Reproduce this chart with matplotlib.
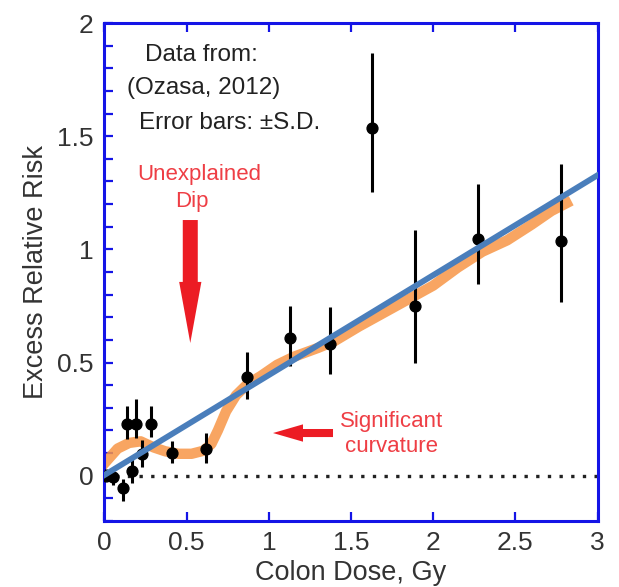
import matplotlib
matplotlib.use('Agg')
import matplotlib.pyplot as plt
from matplotlib.ticker import MultipleLocator, FuncFormatter

plt.rcParams['font.family'] = ['Liberation Sans', 'DejaVu Sans']

# Data points (colon dose, Gy) and excess relative risk with error bar limits
dose = [0.01, 0.05, 0.11, 0.14, 0.165, 0.19, 0.23, 0.28, 0.41, 0.62,
        0.87, 1.13, 1.375, 1.63, 1.89, 2.27, 2.78]
err_value = [0.0, -0.005, -0.055, 0.229, 0.022, 0.229, 0.097, 0.229, 0.10, 0.12,
             0.435, 0.61, 0.58, 1.534, 0.75, 1.044, 1.035]
err_low = [-0.02, -0.04, -0.11, 0.164, -0.03, 0.168, 0.04, 0.17, 0.058, 0.058,
           0.34, 0.487, 0.45, 1.254, 0.497, 0.845, 0.767]
err_high = [0.03, 0.03, -0.013, 0.31, 0.075, 0.34, 0.16, 0.31, 0.155, 0.19,
            0.545, 0.75, 0.745, 1.866, 1.084, 1.288, 1.379]

# Orange smooth curve
curve_x = [-0.03, 0.08, 0.15, 0.22, 0.30, 0.37, 0.45, 0.53, 0.60, 0.65, 0.69, 0.74,
           0.80, 0.87, 0.95, 1.05, 1.15, 1.30, 1.40, 1.55, 1.70, 1.85, 2.00, 2.15,
           2.30, 2.45, 2.60, 2.72, 2.84]
curve_y = [0.03, 0.12, 0.145, 0.152, 0.125, 0.108, 0.097, 0.097, 0.11, 0.14, 0.20, 0.285,
           0.355, 0.405, 0.44, 0.49, 0.525, 0.565, 0.595, 0.66, 0.72, 0.78, 0.84, 0.92,
           0.99, 1.04, 1.11, 1.17, 1.215]

# Blue linear fit
fit_x = [-0.03, 3.01]
fit_y = [-0.01, 1.332]

x_ticks = [0, 0.5, 1, 1.5, 2, 2.5, 3]
y_ticks = [0, 0.5, 1, 1.5, 2]

frame_blue = '#1414e6'
red = '#ec1c24'

fig = plt.figure(figsize=(6.19, 5.87), dpi=100)
ax = fig.add_axes([0.1688, 0.1124, 0.7965, 0.8484])

ax.axhline(0, color='#222222', lw=2.4, linestyle=(0, (1, 2.5)), zorder=1)
ax.plot(curve_x, curve_y, color='#f79646', lw=7.5, alpha=0.85,
        solid_capstyle='butt', solid_joinstyle='round', zorder=2)
yerr = [[v - l for v, l in zip(err_value, err_low)],
        [h - v for v, h in zip(err_value, err_high)]]
ax.errorbar(dose, err_value, yerr=yerr, fmt='o', color='black', ms=7.8,
            elinewidth=2.2, capsize=0, zorder=3)
ax.plot(fit_x, fit_y, color='#4a7ebb', lw=4.2, solid_capstyle='butt', zorder=4)

ax.set_xlim(0, 3)
ax.set_ylim(-0.2, 2)
ax.set_xticks(x_ticks)
ax.set_yticks(y_ticks)
fmt = FuncFormatter(lambda v, p: '%g' % v)
ax.xaxis.set_major_formatter(fmt)
ax.yaxis.set_major_formatter(fmt)
ax.yaxis.set_minor_locator(MultipleLocator(0.1))

for s in ax.spines.values():
    s.set_color(frame_blue)
    s.set_linewidth(2.2)

ax.tick_params(axis='x', which='major', direction='in', top=True, bottom=True,
               length=6.5, width=1.6, color=frame_blue, labelsize=19,
               labelcolor='#333333', pad=7)
ax.tick_params(axis='y', which='both', direction='in', left=True, right=False,
               length=6.5, width=1.6, color=frame_blue, labelsize=19,
               labelcolor='#333333', pad=8)

ax.set_xlabel('Colon Dose, Gy', fontsize=19.5, color='#333333', labelpad=4)
ax.set_ylabel('Excess Relative Risk', fontsize=19.5, color='#333333', labelpad=6)

tkw = dict(transform=ax.transAxes, ha='center', va='center', color='#222222', fontsize=17.5)
ax.text(0.196, 0.936, 'Data from:', **tkw)
ax.text(0.202, 0.869, '(Ozasa, 2012)', **tkw)
ax.text(0.253, 0.799, 'Error bars: \u00b1S.D.', **tkw)

rkw = dict(transform=ax.transAxes, ha='center', va='center', color=red, fontsize=16, alpha=0.85)
ax.text(0.192, 0.695, 'Unexplained', **rkw)
ax.text(0.177, 0.641, 'Dip', **rkw)
ax.text(0.583, 0.199, 'Significant', **rkw)
ax.text(0.583, 0.149, 'curvature', **rkw)

ax.annotate('', xy=(0.174, 0.3574), xytext=(0.174, 0.6044), xycoords='axes fraction',
            textcoords='axes fraction',
            arrowprops=dict(width=10.8, headwidth=16, headlength=44, shrink=0,
                            color=red, lw=0))
ax.annotate('', xy=(0.3418, 0.1767), xytext=(0.4635, 0.1767), xycoords='axes fraction',
            textcoords='axes fraction',
            arrowprops=dict(width=5.8, headwidth=12.5, headlength=21.6, shrink=0,
                            color=red, lw=0))

fig.savefig('out.png', dpi=100)
